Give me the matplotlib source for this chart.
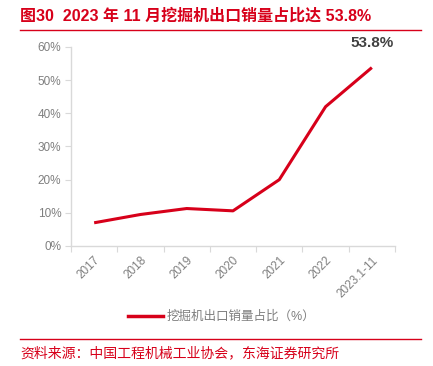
import matplotlib.pyplot as plt
from matplotlib.lines import Line2D
from matplotlib.ticker import FuncFormatter

plt.rcParams['font.family'] = ['Liberation Sans', 'Noto Sans CJK SC', 'DejaVu Sans']

years = ['2017', '2018', '2019', '2020', '2021', '2022', '2023.1-11']
share = [7.0, 9.5, 11.3, 10.6, 20.0, 42.0, 53.8]

red = '#D7001A'
gray = '#7F7F7F'

fig = plt.figure(figsize=(4.33, 3.66), dpi=100)
ax = fig.add_axes([71 / 433, 1 - 246 / 366, (395 - 71) / 433, (246 - 47) / 366])

x = list(range(len(years)))
ax.plot(x, share, color=red, lw=2.2, solid_capstyle='butt')
ax.set_xlim(-0.5, len(years) - 0.5)
ax.set_ylim(0, 60)
ax.set_yticks(range(0, 61, 10))
ax.yaxis.set_major_formatter(FuncFormatter(lambda v, p: f'{v:.0f}%'))
ax.set_xticks([i - 0.5 for i in range(len(years) + 1)], minor=False)
ax.set_xticklabels([])
ax.set_xticks(x, minor=True)
ax.set_xticklabels(years, minor=True, rotation=45, ha='right', rotation_mode='anchor')
ax.tick_params(axis='x', which='minor', length=0, labelsize=8.5, labelcolor=gray, pad=6)
ax.tick_params(axis='x', which='major', length=4, color='#D9D9D9')
ax.tick_params(axis='y', length=4, color='#D9D9D9', labelsize=8.5, labelcolor=gray, pad=3)
for s in ['top', 'right']:
    ax.spines[s].set_visible(False)
for s in ['left', 'bottom']:
    ax.spines[s].set_color('#D9D9D9')
    ax.spines[s].set_linewidth(1.0)

ax.annotate(f'{share[-1]}%', (x[-1], share[-1]), xytext=(0, 13), textcoords='offset points',
            ha='center', va='bottom', fontsize=11, fontweight='bold', color='#404040')

handle = Line2D([], [], color=red, lw=2.5)
fig.legend([handle], ['挖掘机出口销量占比（%）'], loc='center', bbox_to_anchor=(222 / 433, 1 - 317 / 366),
           frameon=False, fontsize=9, labelcolor=gray, handlelength=2.8, handletextpad=0.3)

fig.text(20 / 433, 1 - 16 / 366, '图30  2023 年 11 月挖掘机出口销量占比达 53.8%', color=red,
         fontsize=11.5, fontweight='bold', ha='left', va='center')
fig.add_artist(Line2D([20 / 433, 421 / 433], [1 - 30 / 366] * 2, color=red, lw=1))
fig.add_artist(Line2D([20 / 433, 421 / 433], [1 - 339 / 366] * 2, color=red, lw=1))
fig.text(20 / 433, 1 - 353 / 366, '资料来源：中国工程机械工业协会，东海证券研究所', color=red,
         fontsize=10, ha='left', va='center')

fig.savefig('out.png', dpi=100)
